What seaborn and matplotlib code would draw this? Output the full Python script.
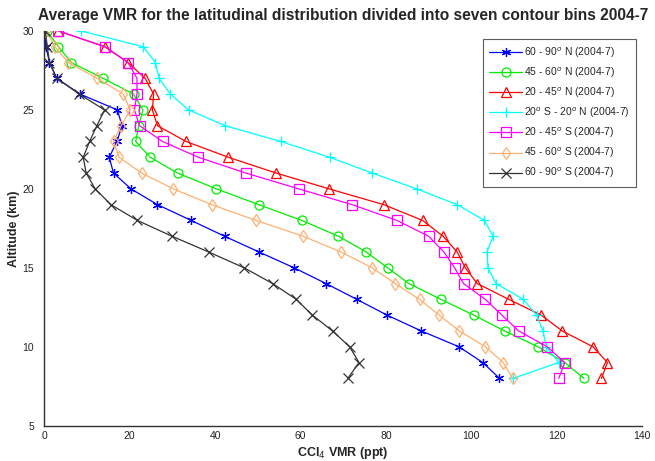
import numpy as np
import pandas as pd
import matplotlib
matplotlib.use("Agg")
import matplotlib.pyplot as plt
import seaborn as sns

# altitude levels (km), top to bottom
altitude = list(range(30, 7, -1))

n60_90 = [0.0, 0.4, 1.2, 2.9, 8.4, 17.1, 18.2, 17.0, 15.2, 16.2, 20.3, 26.5,
          34.4, 42.2, 50.3, 58.5, 66.0, 73.2, 80.3, 88.3, 97.1, 102.7, 106.6]
n45_60 = [0.6, 3.3, 6.3, 13.8, 20.9, 23.1, 22.1, 21.4, 24.8, 31.2, 40.3, 50.2,
          60.3, 68.9, 75.4, 80.4, 85.4, 92.9, 100.6, 107.8, 115.6, 121.9, 126.4]
n20_45 = [3.3, 14.2, 19.6, 23.6, 25.6, 25.3, 26.5, 33.2, 43.1, 54.3, 66.7, 79.5,
          88.6, 93.4, 96.7, 98.6, 101.4, 108.8, 116.4, 121.3, 128.5, 131.9, 130.5]
s20_n20 = [8.6, 23.2, 26.0, 26.9, 29.5, 33.8, 42.4, 55.4, 66.8, 76.8, 87.2, 96.7,
           103.1, 105.1, 103.7, 103.9, 105.8, 112.2, 115.3, 116.8, 117.6, 120.5, 109.8]
s20_45 = [3.3, 14.2, 19.6, 21.7, 21.7, 21.1, 22.3, 27.7, 36.1, 47.2, 59.6, 72.1,
          82.6, 90.0, 93.6, 96.1, 98.2, 103.3, 107.2, 111.1, 117.8, 121.9, 120.5]
s45_60 = [0.5, 2.5, 5.6, 12.4, 18.5, 20.1, 18.0, 16.2, 17.5, 22.8, 30.2, 39.2,
          49.6, 60.6, 69.5, 76.8, 82.2, 87.9, 92.5, 97.2, 103.3, 107.5, 109.7]
s60_90 = [0.2, 0.7, 1.2, 2.9, 8.2, 14.1, 12.3, 10.6, 9.1, 9.8, 11.9, 15.6,
          21.8, 29.9, 38.5, 46.8, 53.5, 59.0, 62.8, 67.5, 71.5, 73.7, 71.1]

labels = ["60 - 90$^o$ N (2004-7)", "45 - 60$^o$ N (2004-7)", "20 - 45$^o$ N (2004-7)",
          "20$^o$ S - 20$^o$ N (2004-7)", "20 - 45$^o$ S (2004-7)",
          "45 - 60$^o$ S (2004-7)", "60 - 90$^o$ S (2004-7)"]
series = [n60_90, n45_60, n20_45, s20_n20, s20_45, s45_60, s60_90]
colors = ["#0000ff", "#00ee00", "#ff0000", "#00ffff", "#ff00ff", "#ffb070", "#333333"]
markers = [(6, 2, 0), "o", "^", "+", "s", "d", "x"]

sns.set_style("white")
plt.rcParams["font.family"] = ["Liberation Sans", "DejaVu Sans"]

fig = plt.figure(figsize=(6.55, 4.61), dpi=100)
ax = fig.add_axes([0.0677, 0.0766, 0.9125, 0.8562])

for vals, lab, col, mk in zip(series, labels, colors, markers):
    df = pd.DataFrame({"vmr": vals, "alt": altitude})
    sns.lineplot(data=df, x="vmr", y="alt", sort=False, estimator=None, ax=ax,
                 color=col, marker=mk, markersize=6.5, markerfacecolor="none",
                 markeredgecolor=col, markeredgewidth=0.9, linewidth=0.9, label=lab)

ax.set_xlim(0, 140)
ax.set_ylim(5, 30)
ax.set_xticks(np.arange(0, 141, 20))
ax.set_yticks(np.arange(5, 31, 5))
ax.tick_params(axis="x", direction="in", length=4, labelsize=7.5, colors="#222222")
ax.tick_params(axis="y", direction="out", length=4, labelsize=7.5, colors="#222222")
for s in ["top", "right"]:
    ax.spines[s].set_visible(False)
for s in ["left", "bottom"]:
    ax.spines[s].set_color("#333333")
    ax.spines[s].set_linewidth(1.0)

ax.set_xlabel("CCl$_4$ VMR (ppt)", fontweight="bold", fontsize=9, labelpad=3)
ax.set_ylabel("Altitude (km)", fontweight="bold", fontsize=9, labelpad=2)
ax.set_title("Average VMR for the latitudinal distribution divided into seven contour bins 2004-7",
             fontweight="bold", fontsize=11.2, pad=8)

leg = ax.legend(loc="upper right", bbox_to_anchor=(0.999, 0.993), fontsize=7.5,
                frameon=True, fancybox=False, edgecolor="#333333", handlelength=3.2,
                borderpad=0.6, labelspacing=0.55, handletextpad=0.2)
leg.get_frame().set_linewidth(0.8)

fig.savefig("out.png", dpi=100)
